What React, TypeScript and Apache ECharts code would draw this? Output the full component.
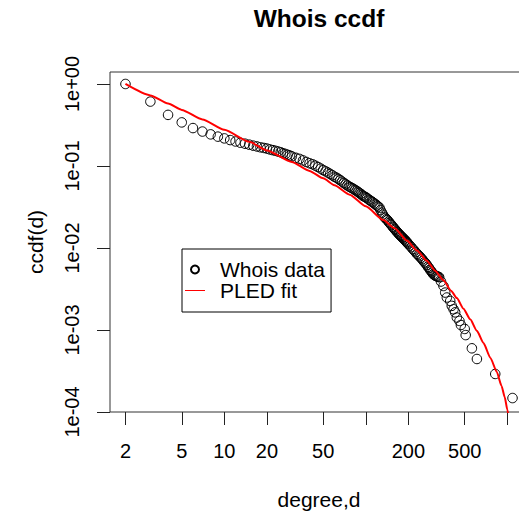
import React, { useEffect, useRef } from "react";
import * as echarts from "echarts";

// Whois degree data (observed ccdf)
const degrees = [
  2, 3, 4, 5, 6, 7, 8, 9, 10, 11, 12, 13, 14, 15, 16, 17, 18, 19, 20, 21, 22, 23, 24, 25, 26, 27, 28, 29, 30,
  32, 34, 36, 38, 40, 42, 44, 46, 48, 50, 52, 54, 56, 58, 60,
  62, 64, 66, 68, 70, 72, 74, 76, 78, 80, 82, 84, 86, 88, 90, 92, 94, 96, 98, 100,
  102, 105, 107, 110, 112, 115, 117, 120, 122, 125, 127, 130, 132, 135, 137, 140, 142, 145, 147, 150,
  152, 155, 157, 160, 162, 165, 167, 170, 172, 175, 177, 180, 182, 185, 187, 190, 192, 195, 197, 200,
  205, 210, 215, 220, 225, 230, 235, 240, 245, 250, 255, 260, 265, 270, 275, 280, 285, 290, 295, 300,
  305, 310, 315, 320, 325, 330, 340,
  354, 364, 374, 395, 405, 417, 428, 440, 459, 470, 500, 508, 562, 610, 822, 1089,
];
const ccdfValues = [
  1.0, 0.61, 0.42, 0.34, 0.29, 0.263, 0.243, 0.228, 0.217, 0.207, 0.199, 0.192, 0.187, 0.182, 0.177, 0.173, 0.169, 0.166, 0.163, 0.159, 0.156, 0.153, 0.15, 0.147, 0.143, 0.14, 0.137, 0.134, 0.131,
  0.126, 0.122, 0.117, 0.112, 0.108, 0.105, 0.101, 0.097, 0.093, 0.089, 0.086, 0.083, 0.08, 0.077, 0.074,
  0.072, 0.0695, 0.067, 0.0645, 0.062, 0.06, 0.058, 0.0563, 0.055, 0.0537, 0.0523, 0.051, 0.0497, 0.0483, 0.047, 0.0457, 0.0443, 0.043, 0.0423, 0.0415,
  0.0405, 0.039, 0.038, 0.037, 0.036, 0.035, 0.034, 0.033, 0.032, 0.031, 0.029, 0.027, 0.0255, 0.024, 0.0233, 0.0225, 0.0219, 0.021, 0.0203, 0.0195,
  0.019, 0.0182, 0.0177, 0.017, 0.0166, 0.016, 0.0156, 0.0151, 0.0147, 0.0143, 0.014, 0.0136, 0.0133, 0.013, 0.0127, 0.0124, 0.0121, 0.0118, 0.0115, 0.0112,
  0.0107, 0.0102, 0.0097, 0.0093, 0.0089, 0.0085, 0.0082, 0.0079, 0.0076, 0.0073, 0.007, 0.0067, 0.0065, 0.0062, 0.0059, 0.0057, 0.0054, 0.0052, 0.005, 0.0048,
  0.0047, 0.0046, 0.00455, 0.0045, 0.00445, 0.0044, 0.0039,
  0.00344, 0.00286, 0.00249, 0.00226, 0.00197, 0.00179, 0.00164, 0.00142, 0.00129, 0.00115, 0.00103, 0.000867, 0.000598, 0.000443, 0.000291, 0.000148,
];

// PLED fit curve
const fitDegrees = [
  2, 3, 4, 5, 7, 10, 15, 20, 30, 40, 50, 60, 77, 100, 133, 160, 195, 230, 270, 310, 354, 400, 440, 490, 547, 610,
  679, 760, 844, 910, 960, 1000, 1030,
];
const fitValues = [
  1.0, 0.726, 0.578, 0.483, 0.369, 0.276, 0.197, 0.155, 0.112, 0.087, 0.0708, 0.0582, 0.0447, 0.0322, 0.0219,
  0.0174, 0.0123, 0.00933, 0.007, 0.00525, 0.00403, 0.00302, 0.00245, 0.00182, 0.00135, 0.000977, 0.000692,
  0.000457, 0.000307, 0.000209, 0.000151, 0.000107, 0.00008,
];

const xTicks = [2, 5, 10, 20, 50, 100, 200, 500, 1000];
const xLabels = [2, 5, 10, 20, 50, 200, 500];
const yTicks = [0.0001, 0.001, 0.01, 0.1, 1];

const FONT = "'Liberation Sans', Arial, Helvetica, sans-serif";

function yFormat(v: number): string {
  const e = Math.round(Math.log10(v));
  const sign = e < 0 ? "-" : "+";
  const a = Math.abs(e);
  return "1e" + sign + (a < 10 ? "0" + a : String(a));
}

export default function App() {
  const ref = useRef<HTMLDivElement>(null);
  useEffect(() => {
    if (!ref.current) return;
    const chart = echarts.init(ref.current, null, { renderer: "svg" });
    const option: any = {
      animation: false,
      backgroundColor: "#ffffff",
      title: {
        text: "Whois ccdf",
        left: 319,
        top: 6,
        padding: 0,
        textAlign: "center",
        textStyle: { fontFamily: FONT, fontSize: 24.5, fontWeight: "bold", color: "#000" },
      },
      legend: {
        left: 182,
        top: 249,
        orient: "vertical",
        padding: [10, 6, 11, 3],
        itemGap: 0,
        itemWidth: 20,
        itemHeight: 8,
        borderColor: "#000",
        borderWidth: 1,
        borderRadius: 0,
        backgroundColor: "#fff",
        textStyle: { fontFamily: FONT, fontSize: 21, color: "#000", lineHeight: 17, padding: [0, 0, 0, 10] },
        data: [
          { name: "Whois data" },
          { name: "PLED fit", icon: "path://M0,0L20,0L20,1L0,1Z", itemStyle: { color: "#ff0000" } },
        ],
      },
      grid: {
        left: 110,
        top: 72,
        right: -9,
        bottom: 105,
        show: true,
        borderColor: "#333",
        borderWidth: 1,
        backgroundColor: "transparent",
        outerBoundsMode: "none",
        containLabel: false,
      },
      xAxis: {
        type: "log",
        logBase: 10,
        min: 1.555,
        max: 1401,
        name: "degree,d",
        nameLocation: "middle",
        nameGap: 77,
        nameTextStyle: { fontFamily: FONT, fontSize: 21, color: "#000" },
        axisLine: { show: false },
        axisTick: { show: true, length: 13, lineStyle: { color: "#222", width: 1 }, customValues: xTicks },
        axisLabel: { show: true, customValues: xLabels, fontFamily: FONT, fontSize: 20, color: "#000", margin: 29 },
        splitLine: { show: false },
        minorTick: { show: false },
      },
      yAxis: {
        type: "log",
        logBase: 10,
        min: 0.0001,
        max: 1.4,
        name: "ccdf(d)",
        nameLocation: "middle",
        nameGap: 64,
        nameRotate: 90,
        nameTextStyle: { fontFamily: FONT, fontSize: 21, color: "#000" },
        axisLine: { show: false },
        axisTick: { show: true, length: 13, lineStyle: { color: "#222", width: 1 }, customValues: yTicks },
        axisLabel: {
          show: true,
          customValues: yTicks,
          rotate: 90,
          fontFamily: FONT,
          fontSize: 20,
          color: "#000",
          margin: 28,
          formatter: (v: number) => yFormat(v),
        },
        splitLine: { show: false },
        minorTick: { show: false },
      },
      series: [
        {
          name: "Whois data",
          type: "scatter",
          symbol: "circle",
          symbolSize: 9.5,
          itemStyle: { color: "rgba(0,0,0,0)", borderColor: "#000", borderWidth: 1, opacity: 1 },
          data: degrees.map((d, i) => [d, ccdfValues[i]]),
          z: 2,
          silent: true,
        },
        {
          name: "PLED fit",
          type: "line",
          symbol: "none",
          showSymbol: false,
          smooth: 0.2,
          smoothMonotone: "x",
          clip: true,
          lineStyle: { color: "#ff0000", width: 2 },
          itemStyle: { color: "#ff0000" },
          data: fitDegrees.map((d, i) => [d, fitValues[i]]),
          z: 3,
          silent: true,
        },
      ],
    };
    chart.setOption(option);
    return () => chart.dispose();
  }, []);
  return (
    <div
      ref={ref}
      style={{ position: "fixed", left: 0, top: 0, width: 519, height: 517, background: "#fff" }}
    />
  );
}
